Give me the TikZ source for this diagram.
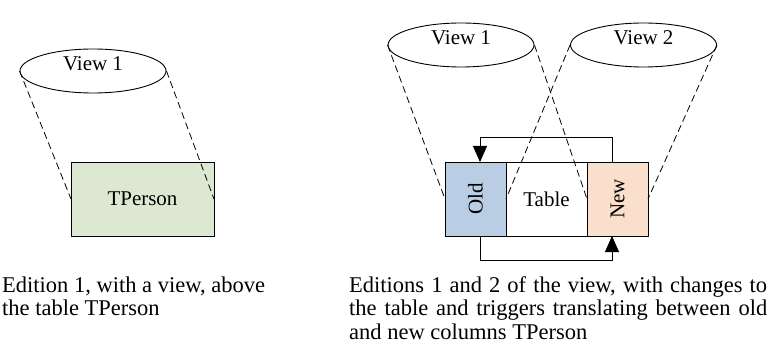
\documentclass[tikz,border=0pt]{standalone}
\usepackage{fontspec}
\setmainfont{Liberation Serif}
\usetikzlibrary{positioning}
\usetikzlibrary{arrows.meta}
\usetikzlibrary{shapes.geometric}

\definecolor{tgreen}{HTML}{DDE8D3}
\definecolor{oldblue}{HTML}{B9CDE5}
\definecolor{newpeach}{HTML}{FAE0CC}

\begin{document}
\begin{tikzpicture}[x=1pt,y=-1pt,font=\fontsize{21}{22}\selectfont]

\tikzstyle{view} = [ellipse,draw,line width=0.9pt,inner sep=0,minimum width=146,minimum height=44]
\tikzstyle{column} = [rectangle,draw,line width=0.9pt,outer sep=0,inner sep=0,minimum height=74]
\tikzstyle{proj} = [draw, dashed, line width=0.8pt, dash pattern=on 7pt off 4pt]
\tikzstyle{trigger} = [draw, line width=0.9pt, -{Triangle[width=14pt,length=16pt]}]
\tikzstyle{caption} = [inner sep=0, align=left, anchor=base west, font=\fontsize{22.5}{23.5}\selectfont]

\useasboundingbox (0,0) rectangle (770,347);

% edition 1
\node [view] (v1) at (93,71) {};
\node [yshift=7pt] (v1text) at (v1) {View 1};
\node [column, fill=tgreen, minimum width=143] (tperson) at (142.5,199) {TPerson};

\draw [proj] (v1.west) -- (tperson.west);
\draw [proj] (v1.east) -- (tperson.east);

% editions 1 and 2
\node [view] (v1b) at (461,45) {};
\node [yshift=7pt] (v1btext) at (v1b) {View 1};
\node [view] (v2) at (643.5,45) {};
\node [yshift=7pt] (v2text) at (v2) {View 2};

\node [column, fill=oldblue, minimum width=61] (old) at (475.5,199) {\rotatebox{90}{Old}};
\node [column, fill=white, minimum width=81, right=0pt of old] (table) {Table};
\node [column, fill=newpeach, minimum width=61, right=0pt of table] (new) {\rotatebox{90}{New}};

\draw [proj] (v1b.west) -- (old.west);
\draw [proj] (v1b.east) -- (new.west);
\draw [proj] (v2.west) -- (old.east);
\draw [proj] (v2.east) -- (new.east);

\draw [trigger] ([xshift=-5.5pt]new.north) -- ++(0,-25) -| ([xshift=4.5pt]old.north);
\draw [trigger] ([xshift=4.5pt]old.south) -- ++(0,24) -| ([xshift=-5.5pt]new.south);

% captions
\node [caption] (cap1) at (2,315.5) {Edition 1, with a view, above\\the table TPerson};
\node [caption] (cap2) at (349,339) {\makebox[418pt][s]{Editions 1 and 2 of the view, with changes to}\\
  \makebox[418pt][s]{the table and triggers translating between old}\\and new columns TPerson};
\end{tikzpicture}
\end{document}
